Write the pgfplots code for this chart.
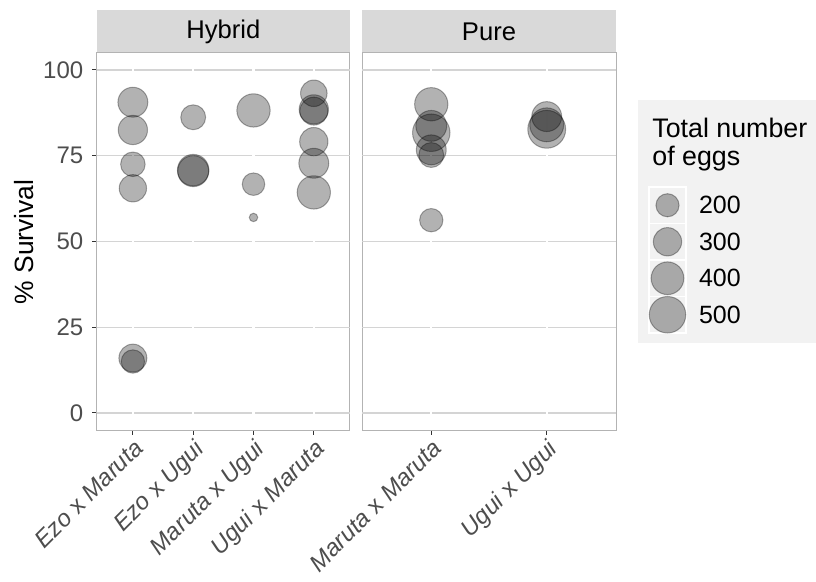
\documentclass[border=0pt]{standalone}
\usepackage{pgfplots}
\pgfplotsset{compat=1.18}
\usepackage{pgfplotstable}
\usepackage{fontspec}
\setmainfont{Liberation Sans}

\definecolor{stripgrey}{HTML}{D9D9D9}
\definecolor{gridgrey}{HTML}{D4D4D4}
\definecolor{bordergrey}{HTML}{B3B3B3}
\definecolor{ticktext}{HTML}{4D4D4D}
\definecolor{tickmark}{HTML}{333333}
\definecolor{legendbg}{HTML}{F2F2F2}

% survival (%) and total number of eggs per cross
\pgfplotstableread{
x y eggs
1 90.6 335
1 82.5 321
1 72.5 225
1 65.5 279
1 16.0 292
1 15.0 204
2 86.2 232
2 70.8 371
2 70.5 360
3 88.2 415
3 66.7 190
3 57.0 27
4 93.2 263
4 88.5 321
4 88.0 292
4 79.1 300
4 72.8 335
4 64.3 415
}\hybrid

\pgfplotstableread{
x y eggs
1 90.0 415
1 83.7 357
1 81.7 526
1 76.7 335
1 75.2 232
1 56.2 204
2 86.4 335
2 84.0 430
2 82.7 537
}\pure

\pgfplotstableread{
x y eggs
0.5 3.5 200
0.5 2.5 300
0.5 1.5 400
0.5 0.5 500
}\legendkeys

\tikzset{
  hgrid/.style={gridgrey, line width=0.6bp},
  vgrid/.style={white, line width=1.1bp},
}

\pgfplotsset{
  bubbles/.style={
    scatter, only marks, mark=*,
    scatter/use mapped color={draw=black, fill=black, draw opacity=0.32, fill opacity=0.3},
    visualization depends on={0.41*sqrt(\thisrow{eggs}) \as \perpointmarksize},
    scatter/@pre marker code/.append style={/tikz/mark size=\perpointmarksize},
    mark options={line width=0.5bp},
  },
  panel/.style={
    scale only axis,
    width=#1, height=188.65bp,
    anchor=north west,
    ymin=-5, ymax=105,
    ytick={0,25,50,75,100},
    axis line style={bordergrey, line width=0.5bp},
    tick style={tickmark, line width=0.5bp},
    major tick length=2.2bp,
    tick align=outside,
    xtick pos=bottom, ytick pos=left,
    tick label style={font=\fontsize{12bp}{14bp}\selectfont, text=ticktext},
    xticklabel style={rotate=45, anchor=north east, inner sep=1bp},
    clip=false,
  },
}

\begin{document}
\begin{tikzpicture}
\useasboundingbox (0,0) rectangle (408bp,-291bp);

% facet strips
\fill[stripgrey] (48.35bp,-5bp) rectangle (175bp,-26.4bp);
\fill[stripgrey] (181bp,-5bp) rectangle (308bp,-26.4bp);
\node[font=\fontsize{12.8bp}{14bp}\selectfont] at (111.7bp,-16bp) {Hybrid};
\node[font=\fontsize{12.8bp}{14bp}\selectfont] at (244.5bp,-16bp) {Pure};

\begin{axis}[panel=126.65bp, at={(48.35bp,-26.4bp)},
  xmin=0.4, xmax=4.6,
  xtick={1,2,3,4},
  xticklabels={{\textit{Ezo} x \textit{Maruta}}, {\textit{Ezo} x \textit{Ugui}}, {\textit{Maruta} x \textit{Ugui}}, {\textit{Ugui} x \textit{Maruta}}},
  yticklabels={0,25,50,75,100},
  yticklabel style={anchor=east, xshift=-1bp}]
  \pgfplotsinvokeforeach{0,25,50,75,100}{
    \draw[hgrid] (axis cs:0.4,#1) -- (axis cs:4.6,#1);
  }
  \pgfplotsinvokeforeach{1,2,3,4}{
    \draw[vgrid] (axis cs:#1,-5) -- (axis cs:#1,105);
  }
  \addplot[bubbles] table[x=x, y=y] {\hybrid};
\end{axis}

\begin{axis}[panel=127bp, at={(181bp,-26.4bp)},
  xmin=0.4, xmax=2.6,
  xtick={1,2},
  xticklabels={{\textit{Maruta} x \textit{Maruta}}, {\textit{Ugui} x \textit{Ugui}}},
  yticklabels={}, ytick style={draw=none}]
  \pgfplotsinvokeforeach{0,25,50,75,100}{
    \draw[hgrid] (axis cs:0.4,#1) -- (axis cs:2.6,#1);
  }
  \pgfplotsinvokeforeach{1,2}{
    \draw[vgrid] (axis cs:#1,-5) -- (axis cs:#1,105);
  }
  \addplot[bubbles] table[x=x, y=y] {\pure};
\end{axis}

% y-axis title
\node[rotate=90, font=\fontsize{13.2bp}{15bp}\selectfont] at (12bp,-121bp) {\% Survival};

% size legend
\fill[legendbg] (319bp,-50bp) rectangle (408bp,-171.5bp);
\node[anchor=base west, font=\fontsize{13.4bp}{15bp}\selectfont, inner sep=0pt] at (326bp,-68.5bp) {Total number};
\node[anchor=base west, font=\fontsize{13.4bp}{15bp}\selectfont, inner sep=0pt] at (326bp,-82.5bp) {of eggs};
\foreach \i/\lab in {0/200,1/300,2/400,3/500} {
  \draw[white, fill=legendbg, line width=0.6bp] (324.5bp,-93.5bp-\i*18.25bp) rectangle (343bp,-111.75bp-\i*18.25bp);
  \node[anchor=west, font=\fontsize{12.5bp}{14bp}\selectfont, inner sep=0pt] at (349.3bp,-102.6bp-\i*18.25bp) {\lab};
}
\begin{axis}[scale only axis, width=18.5bp, height=73bp, anchor=north west,
  at={(324.5bp,-93.5bp)}, xmin=0, xmax=1, ymin=0, ymax=4, hide axis, clip=false]
  \addplot[bubbles] table[x=x, y=y] {\legendkeys};
\end{axis}
\end{tikzpicture}
\end{document}
